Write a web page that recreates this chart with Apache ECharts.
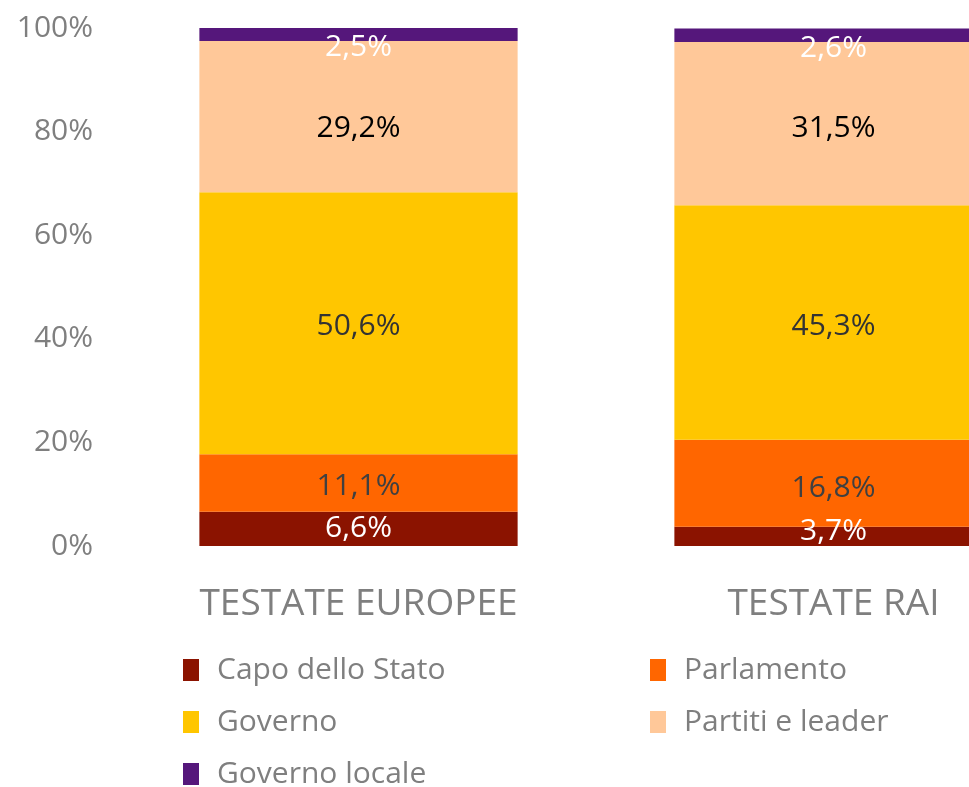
<!DOCTYPE html>
<html>
<head>
<meta charset="utf-8">
<script src="https://cdn.jsdelivr.net/npm/echarts@6/dist/echarts.min.js"></script>
<style>
  html, body { margin: 0; padding: 0; background: #fff; }
  #main { width: 969px; height: 787px; }
</style>
</head>
<body>
<div id="main"></div>
<script>
  // categories and shares (%) per bar
  const categories = ["TESTATE EUROPEE", "TESTATE RAI"];
  const capoStato = [6.6, 3.7];
  const parlamento = [11.1, 16.8];
  const governo = [50.6, 45.3];
  const partiti = [29.2, 31.5];
  const governoLocale = [2.5, 2.6];
  const yTicks = [0, 20, 40, 60, 80, 100];

  const fontFam = "'Open Sans', 'DejaVu Sans', sans-serif";
  const grey = "#7f7f7f";

  var chartDom = document.getElementById("main");
  var myChart = echarts.init(chartDom);

  function fmt(p) {
    return String(p.value.toFixed(1)).replace(".", ",") + "%";
  }

  function makeSeries(name, values, color, labelColor, offsets) {
    return {
      name: name,
      type: "bar",
      stack: "total",
      barCategoryGap: "33%",
      itemStyle: { color: color },
      data: values.map((v, i) => ({
        value: v,
        label: offsets && offsets[i] ? { offset: offsets[i] } : undefined,
      })),
      label: {
        show: true,
        position: "inside",
        formatter: fmt,
        color: labelColor,
        fontSize: 30,
        fontFamily: fontFam,
      },
    };
  }

  const legendText = {
    color: grey,
    fontSize: 30,
    lineHeight: 30,
    fontFamily: fontFam,
    padding: [0, 0, 0, 13],
  };

  var option = {
    backgroundColor: "#fff",
    animation: false,
    // second bar runs past the right edge, as in the source
    grid: { left: 121, width: 950, top: 28, height: 518, outerBoundsMode: "none" },
    xAxis: {
      type: "category",
      data: categories,
      axisLine: { show: false },
      axisTick: { show: false },
      axisLabel: { color: grey, fontSize: 37, margin: 40, fontFamily: fontFam },
    },
    yAxis: {
      type: "value",
      min: yTicks[0],
      max: yTicks[yTicks.length - 1],
      interval: 20,
      splitLine: { show: false },
      axisLine: { show: false },
      axisLabel: {
        color: grey,
        fontSize: 30,
        margin: 28,
        fontFamily: fontFam,
        formatter: "{value}%",
      },
    },
    legend: [
      {
        orient: "vertical",
        left: 183,
        top: 655,
        padding: 0,
        height: 160,
        itemWidth: 16,
        itemHeight: 22,
        itemGap: 22,
        icon: "rect",
        data: ["Capo dello Stato", "Governo", "Governo locale"],
        textStyle: legendText,
      },
      {
        orient: "vertical",
        left: 650,
        top: 655,
        padding: 0,
        height: 160,
        itemWidth: 16,
        itemHeight: 22,
        itemGap: 22,
        icon: "rect",
        data: ["Parlamento", "Partiti e leader"],
        textStyle: legendText,
      },
    ],
    series: [
      makeSeries("Capo dello Stato", capoStato, "#8b1300", "#fff", [null, [0, -5]]),
      makeSeries("Parlamento", parlamento, "#ff6600", "#404040", [[0, 3], [0, 5]]),
      makeSeries("Governo", governo, "#ffc600", "#333", [[0, 3], [0, 4]]),
      makeSeries("Partiti e leader", partiti, "#ffc899", "#000", [[0, 12], [0, 5]]),
      makeSeries("Governo locale", governoLocale, "#55177b", "#fff", [[0, 13], [0, 13]]),
    ],
  };

  option && myChart.setOption(option);
</script>
</body>
</html>
